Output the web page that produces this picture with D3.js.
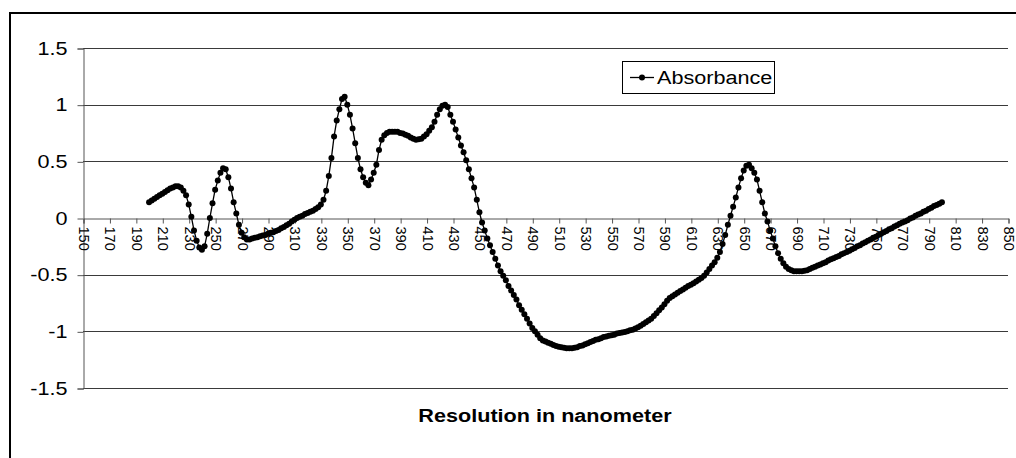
<!DOCTYPE html>
<html>
<head>
<meta charset="utf-8">
<script src="https://cdn.jsdelivr.net/npm/d3@7"></script>
<style>
  html, body { margin: 0; padding: 0; background: #fff; }
  svg { display: block; font-family: "Liberation Sans", Arial, sans-serif; }
</style>
</head>
<body>
<svg id="chart" width="1016" height="458"></svg>
<script>
// ---- data ----
const startNm = 200;
const stepNm = 2;
const absorbance = [
  0.14, 0.155, 0.17, 0.185, 0.20, 0.215, 0.23, 0.245, 0.26, 0.27,
  0.28, 0.28, 0.27, 0.24, 0.20, 0.12, 0.01, -0.11, -0.20, -0.26,
  -0.28, -0.25, -0.14, 0.00, 0.13, 0.25, 0.33, 0.40, 0.44, 0.43,
  0.36, 0.26, 0.14, 0.04, -0.06, -0.13, -0.17, -0.19, -0.19, -0.18,
  -0.175, -0.17, -0.16, -0.155, -0.15, -0.14, -0.13, -0.125, -0.115, -0.105,
  -0.09, -0.08, -0.065, -0.05, -0.03, -0.015, 0.0, 0.01, 0.02, 0.035,
  0.045, 0.055, 0.065, 0.08, 0.095, 0.12, 0.16, 0.24, 0.37, 0.53,
  0.72, 0.86, 0.96, 1.05, 1.07, 1.00, 0.91, 0.79, 0.66, 0.53,
  0.43, 0.36, 0.31, 0.29, 0.34, 0.40, 0.47, 0.60, 0.69, 0.73,
  0.75, 0.76, 0.76, 0.76, 0.76, 0.75, 0.745, 0.735, 0.725, 0.71,
  0.70, 0.69, 0.695, 0.70, 0.72, 0.74, 0.77, 0.80, 0.85, 0.91,
  0.96, 0.99, 1.00, 0.98, 0.91, 0.85, 0.78, 0.71, 0.64, 0.58,
  0.51, 0.43, 0.35, 0.27, 0.16, 0.05, -0.04, -0.11, -0.18, -0.24,
  -0.30, -0.36, -0.42, -0.47, -0.51, -0.55, -0.60, -0.64, -0.68, -0.72,
  -0.77, -0.81, -0.85, -0.89, -0.93, -0.97, -1.00, -1.03, -1.06, -1.08,
  -1.09, -1.10, -1.11, -1.12, -1.13, -1.135, -1.14, -1.145, -1.15, -1.15,
  -1.15, -1.145, -1.14, -1.13, -1.125, -1.115, -1.105, -1.095, -1.085, -1.075,
  -1.07, -1.06, -1.05, -1.045, -1.04, -1.035, -1.03, -1.02, -1.015, -1.01,
  -1.005, -1.0, -0.99, -0.985, -0.975, -0.965, -0.95, -0.935, -0.92, -0.905,
  -0.89, -0.865, -0.84, -0.815, -0.79, -0.76, -0.73, -0.705, -0.69, -0.675,
  -0.66, -0.645, -0.63, -0.615, -0.60, -0.59, -0.575, -0.56, -0.545, -0.53,
  -0.51, -0.48, -0.45, -0.42, -0.39, -0.35, -0.30, -0.23, -0.15, -0.06,
  0.02, 0.10, 0.18, 0.27, 0.35, 0.42, 0.46, 0.47, 0.44, 0.40,
  0.34, 0.24, 0.14, 0.04, -0.03, -0.11, -0.18, -0.25, -0.31, -0.36,
  -0.40, -0.43, -0.45, -0.46, -0.47, -0.47, -0.47, -0.47, -0.465, -0.46,
  -0.45, -0.44, -0.43, -0.42, -0.41, -0.40, -0.39, -0.375, -0.365, -0.355,
  -0.345, -0.335, -0.32, -0.31, -0.30, -0.29, -0.275, -0.265, -0.25, -0.24,
  -0.225, -0.215, -0.20, -0.19, -0.175, -0.165, -0.15, -0.14, -0.125, -0.115,
  -0.10, -0.09, -0.075, -0.065, -0.05, -0.04, -0.03, -0.02, -0.005, 0.005,
  0.02, 0.03, 0.04, 0.055, 0.065, 0.08, 0.09, 0.105, 0.115, 0.125,
  0.14
];
const xTicks = [150,170,190,210,230,250,270,290,310,330,350,370,390,410,430,450,470,490,510,530,550,570,590,610,630,650,670,690,710,730,750,770,790,810,830,850];
const yTicks = [1.5, 1, 0.5, 0, -0.5, -1, -1.5];
const xDomain = [150, 850];
const yDomain = [-1.5, 1.5];
const seriesName = "Absorbance";
const xTitle = "Resolution in nanometer";

const points = absorbance.map((v, i) => ({ nm: startNm + i * stepNm, v }));

// ---- layout ----
const svg = d3.select("#chart");
const plot = { left: 83, right: 1008, top: 48, bottom: 388 };
const x = d3.scaleLinear().domain(xDomain).range([plot.left, plot.right]);
const y = d3.scaleLinear().domain(yDomain).range([plot.bottom, plot.top]);

function stretch(sel, factor) {
  sel.each(function () {
    const len = this.getComputedTextLength();
    d3.select(this).attr("textLength", len * factor).attr("lengthAdjust", "spacingAndGlyphs");
  });
}

// outer frame
svg.append("rect")
  .attr("x", 10).attr("y", 13)
  .attr("width", 1016).attr("height", 458)
  .attr("fill", "#fff").attr("stroke", "#000").attr("stroke-width", 2);

// gridlines
svg.append("g")
  .selectAll("line")
  .data(yTicks.filter(d => d !== 0))
  .join("line")
  .attr("x1", plot.left).attr("x2", plot.right)
  .attr("y1", d => Math.round(y(d)) + 0.5).attr("y2", d => Math.round(y(d)) + 0.5)
  .attr("stroke", "#3a3a3a").attr("stroke-width", 1);

// y axis
const yAxis = svg.append("g")
  .attr("transform", `translate(${plot.left + 0.5},0.5)`)
  .call(d3.axisLeft(y).tickValues(yTicks).tickSize(6).tickPadding(10).tickFormat(d3.format("")));
yAxis.select(".domain").attr("stroke", "#555");
yAxis.selectAll(".tick line").attr("stroke", "#555");
yAxis.selectAll(".tick text")
  .style("font-size", "18px")
  .attr("fill", "#000")
  .style("font-family", "Liberation Sans, Arial, sans-serif")
  .text(d => d3.format("")(d).replace("−", "-"));
stretch(yAxis.selectAll(".tick text"), 1.2);

// x axis at zero
const xAxis = svg.append("g")
  .attr("transform", `translate(0.5,${Math.round(y(0)) + 0.5})`)
  .call(d3.axisBottom(x).tickValues(xTicks).tickSize(5).tickFormat(d3.format("d")));
xAxis.select(".domain").attr("stroke", "#555");
xAxis.selectAll(".tick line").attr("stroke", "#555");
xAxis.selectAll(".tick text")
  .style("font-size", "14.5px")
  .attr("fill", "#000")
  .style("font-family", "Liberation Sans, Arial, sans-serif")
  .attr("text-anchor", "start")
  .attr("dy", null)
  .attr("y", 0)
  .attr("dominant-baseline", "central")
  .attr("transform", "translate(0,8) rotate(90)");

// series line
const line = d3.line().x(d => x(d.nm)).y(d => y(d.v));
svg.append("path")
  .datum(points)
  .attr("d", line)
  .attr("fill", "none")
  .attr("stroke", "#000")
  .attr("stroke-width", 1.3);

svg.append("g")
  .selectAll("circle")
  .data(points)
  .join("circle")
  .attr("cx", d => x(d.nm))
  .attr("cy", d => y(d.v))
  .attr("r", 3)
  .attr("fill", "#000");

// x title
const title = svg.append("text")
  .attr("x", 545).attr("y", 422)
  .attr("text-anchor", "middle")
  .style("font-size", "18px")
  .attr("font-weight", "bold")
  .attr("fill", "#000")
  .text(xTitle);
stretch(title, 1.2);

// legend
const legend = svg.append("g").attr("transform", "translate(622,61)");
legend.append("rect")
  .attr("x", 0.5).attr("y", 0.5).attr("width", 152).attr("height", 32)
  .attr("fill", "#fff").attr("stroke", "#000").attr("stroke-width", 1);
legend.append("line")
  .attr("x1", 8).attr("x2", 32).attr("y1", 16.5).attr("y2", 16.5)
  .attr("stroke", "#000").attr("stroke-width", 1.3);
legend.append("circle").attr("cx", 20).attr("cy", 16.5).attr("r", 3).attr("fill", "#000");
const lt = legend.append("text")
  .attr("x", 35).attr("y", 23)
  .style("font-size", "18px")
  .attr("fill", "#000")
  .text(seriesName);
stretch(lt, 1.2);
</script>
</body>
</html>
